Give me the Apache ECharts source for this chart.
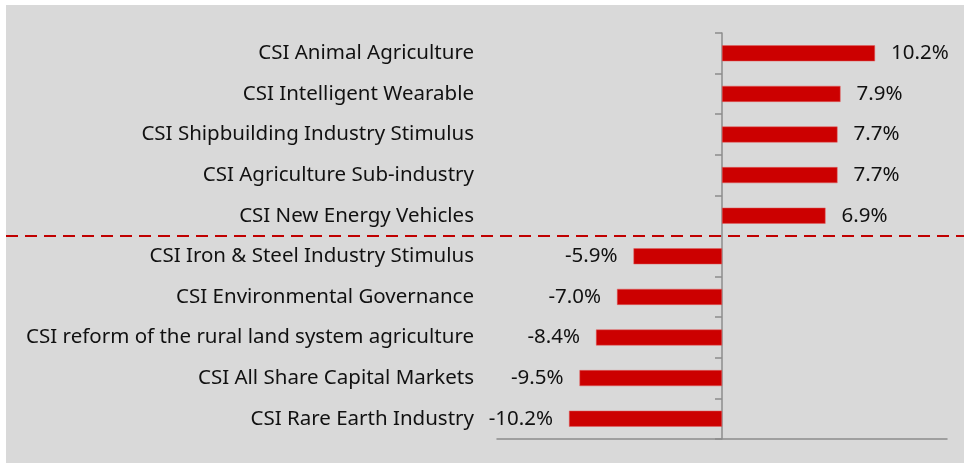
<!DOCTYPE html>
<html><head><meta charset="utf-8">
<script src="https://cdn.jsdelivr.net/npm/echarts@6/dist/echarts.min.js"></script>
<style>
html,body{margin:0;padding:0;background:#fff;width:964px;height:463px;overflow:hidden}
#c{position:absolute;left:6px;top:5px;width:958px;height:458px;background:#d9d9d9}
</style></head><body>
<div id="c"></div>
<script>
const categories = [
  "CSI Animal Agriculture",
  "CSI Intelligent Wearable",
  "CSI Shipbuilding Industry Stimulus",
  "CSI Agriculture Sub-industry",
  "CSI New Energy Vehicles",
  "CSI Iron & Steel Industry Stimulus",
  "CSI Environmental Governance",
  "CSI reform of the rural land system agriculture",
  "CSI All Share Capital Markets",
  "CSI Rare Earth Industry"
];
const values = [10.2, 7.9, 7.7, 7.7, 6.9, -5.9, -7.0, -8.4, -9.5, -10.2];
const splitAfterIndex = 4; // dashed separator between gainers and losers

const FONT = '"Noto Sans", sans-serif';
const chart = echarts.init(document.getElementById('c'), null, {renderer: 'canvas'});
const axisColor = '#8c8c8c';
chart.setOption({
  animation: false,
  grid: {left: 491, right: 17, top: 28, bottom: 24, containLabel: false},
  xAxis: {
    type: 'value', min: -15, max: 15,
    axisLabel: {show: false}, splitLine: {show: false}, axisTick: {show: false},
    axisLine: {show: true, onZero: false, lineStyle: {color: axisColor, width: 1.5}}
  },
  yAxis: [
    {
      type: 'category', data: categories, inverse: true, position: 'left',
      axisLine: {show: false, onZero: false}, axisTick: {show: false},
      axisLabel: {color: '#111', fontFamily: FONT, fontSize: 20.5, margin: 23}
    },
    {
      type: 'category', data: categories, inverse: true, position: 'left',
      axisLine: {show: true, onZero: true, onZeroAxisIndex: 0, lineStyle: {color: axisColor, width: 1.5}},
      axisTick: {show: true, length: 7, lineStyle: {color: axisColor, width: 1.5}},
      axisLabel: {show: false}
    }
  ],
  series: [{
    type: 'bar', yAxisIndex: 0, barWidth: 16,
    data: values.map(v => v < 0 ? {value: v, label: {position: 'left'}} : v),
    itemStyle: {color: '#cc0000', borderColor: '#e06060', borderWidth: 0.5},
    label: {
      show: true, distance: 16, fontFamily: FONT, fontSize: 20.5, color: '#111',
      position: 'right',
      formatter: p => p.value.toFixed(1) + '%'
    }
  }]
});

const y1 = chart.convertToPixel({yAxisIndex: 0}, categories[splitAfterIndex]);
const y2 = chart.convertToPixel({yAxisIndex: 0}, categories[splitAfterIndex + 1]);
const ySep = (y1 + y2) / 2;
chart.setOption({
  graphic: [{
    type: 'line', z: 100,
    shape: {x1: 0, y1: ySep, x2: 958, y2: ySep},
    style: {stroke: '#c00000', lineWidth: 2, lineDash: [12, 7]}
  }]
});
</script>
</body></html>
